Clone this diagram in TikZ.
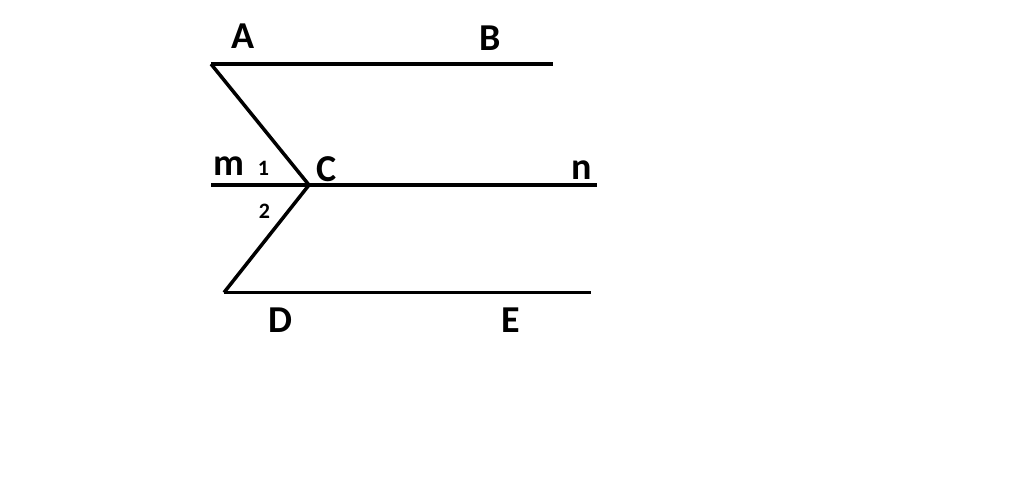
\documentclass[tikz,border=0pt]{standalone}
\usepackage{fontspec}
\setmainfont{Carlito}
\begin{document}
\begin{tikzpicture}[x=1pt,y=-1pt,line width=3.5pt,
    lbl/.style={font=\fontsize{38}{38}\selectfont\bfseries,inner sep=0pt},
    num/.style={font=\fontsize{22}{22}\selectfont\bfseries,inner sep=0pt}]
            \useasboundingbox (0,0) rectangle (1024,477);

            \coordinate (A) at (211,64);
            \coordinate (B) at (553,64);
            \coordinate (C) at (309,185);
            \coordinate (M) at (211,185);
            \coordinate (N) at (597,185);
            \coordinate (D) at (224,292.5);
            \coordinate (E) at (591,292.5);

            \draw (A) -- (B);
            \draw (M) -- (N);
            \draw (D) -- (E);
            \draw[line join=miter] (A) -- (C) -- (D);

            \node[lbl] (labA) at (243.5,36) {A};
            \node[lbl] (labB) at (490,38.5) {B};
            \node[lbl] (labC) at (327,169.5) {C};
            \node[lbl] (labD) at (280,320) {D};
            \node[lbl] (labE) at (510.5,320) {E};
            \node[lbl] (labm) at (228.5,166) {m};
            \node[lbl] (labn) at (581.5,170) {n};

            \node[num] (one) at (263.5,168.5) {1};
            \node[num] (two) at (264.5,211.5) {2};
        \end{tikzpicture}
\end{document}
